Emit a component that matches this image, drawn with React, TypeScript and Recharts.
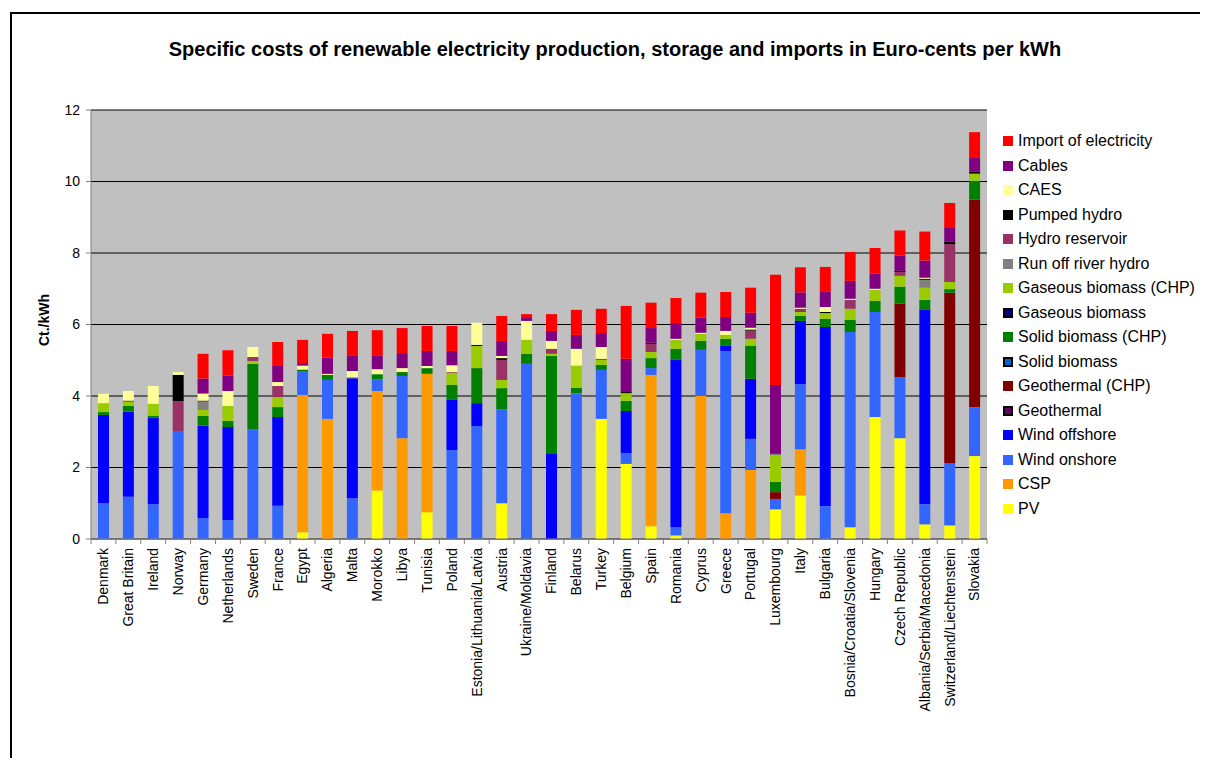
import React from 'react';
import { BarChart, Bar, XAxis, YAxis, CartesianGrid } from 'recharts';

const categories = [
  'Denmark', 'Great Britain', 'Ireland', 'Norway', 'Germany', 'Netherlands', 'Sweden', 'France',
  'Egypt', 'Algeria', 'Malta', 'Morokko', 'Libya', 'Tunisia', 'Poland', 'Estonia/Lithuania/Latvia',
  'Austria', 'Ukraine/Moldavia', 'Finland', 'Belarus', 'Turkey', 'Belgium', 'Spain', 'Romania',
  'Cyprus', 'Greece', 'Portugal', 'Luxembourg', 'Italy', 'Bulgaria', 'Bosnia/Croatia/Slovenia',
  'Hungary', 'Czech Republic', 'Albania/Serbia/Macedonia', 'Switzerland/Liechtenstein', 'Slovakia',
];

const pv = [0, 0, 0, 0, 0, 0, 0, 0, 0.19, 0, 0, 1.36, 0, 0.75, 0, 0, 1.0, 0, 0, 0, 3.36, 2.1, 0.36, 0.1, 0, 0, 0, 0.83, 1.22, 0, 0.33, 3.41, 2.82, 0.41, 0.38, 2.32];
const csp = [0, 0, 0, 0, 0, 0, 0, 0, 3.84, 3.36, 0, 2.78, 2.82, 3.87, 0, 0, 0, 0, 0, 0, 0, 0, 4.23, 0, 4.0, 0.72, 1.93, 0, 1.29, 0, 0, 0, 0, 0, 0, 0];
const windOnshore = [1.0, 1.18, 0.97, 3.02, 0.59, 0.53, 3.07, 0.93, 0.65, 1.09, 1.14, 0.33, 1.74, 0, 2.49, 3.16, 2.63, 4.9, 0, 4.08, 1.37, 0.3, 0.19, 0.23, 1.29, 4.54, 0.87, 0.29, 1.82, 0.92, 5.46, 2.94, 1.71, 0.56, 1.74, 1.37];
const windOffshore = [2.47, 2.38, 2.42, 0, 2.58, 2.6, 0, 2.48, 0, 0, 3.36, 0, 0, 0, 1.4, 0.64, 0, 0, 2.38, 0, 0, 1.18, 0, 4.68, 0, 0.14, 1.68, 0, 1.77, 5.01, 0, 0, 0, 5.44, 0, 0];
const geothermal = [0, 0, 0, 0, 0, 0, 0, 0, 0, 0, 0, 0, 0, 0, 0, 0, 0, 0, 0, 0, 0, 0, 0, 0, 0, 0, 0, 0, 0, 0, 0, 0, 0, 0, 0, 0];
const geothermalChp = [0, 0, 0, 0, 0, 0, 0, 0, 0, 0, 0, 0, 0, 0, 0, 0, 0, 0, 0, 0, 0, 0, 0, 0, 0, 0, 0, 0.19, 0, 0, 0, 0, 2.05, 0, 4.77, 5.8];
const solidBiomass = [0, 0, 0, 0, 0, 0, 0, 0, 0, 0, 0, 0, 0, 0, 0, 0, 0, 0, 0, 0, 0, 0, 0, 0, 0, 0, 0, 0, 0, 0, 0, 0, 0, 0, 0, 0];
const solidBiomassChp = [0.08, 0.16, 0.06, 0, 0.27, 0.17, 1.83, 0.28, 0.06, 0.14, 0, 0.14, 0.11, 0.16, 0.42, 0.98, 0.59, 0.28, 2.74, 0.15, 0.14, 0.28, 0.28, 0.31, 0.25, 0.2, 0.93, 0.29, 0.14, 0.23, 0.34, 0.31, 0.48, 0.28, 0.1, 0.53];
const gaseousBiomass = [0, 0, 0, 0, 0, 0, 0, 0, 0, 0, 0, 0, 0, 0, 0, 0, 0, 0, 0, 0, 0, 0, 0, 0, 0, 0, 0, 0, 0, 0, 0, 0, 0, 0, 0, 0];
const gaseousBiomassChp = [0.25, 0.13, 0.33, 0, 0.17, 0.42, 0.08, 0.28, 0, 0, 0.03, 0, 0, 0, 0.34, 0.62, 0.23, 0.39, 0.06, 0.62, 0.14, 0.22, 0.17, 0.25, 0.2, 0.11, 0.19, 0.75, 0.11, 0.16, 0.31, 0.31, 0.3, 0.34, 0.2, 0.2];
const runOffRiver = [0, 0, 0, 0, 0.24, 0, 0, 0, 0, 0, 0, 0, 0, 0, 0, 0, 0, 0, 0, 0, 0, 0, 0, 0, 0, 0, 0, 0.03, 0, 0, 0, 0, 0, 0.22, 0, 0];
const hydroReservoir = [0, 0, 0, 0.84, 0, 0, 0.11, 0.31, 0, 0, 0, 0, 0, 0, 0.02, 0, 0.56, 0, 0.14, 0, 0.03, 0, 0.23, 0, 0, 0, 0.23, 0, 0.09, 0, 0.25, 0, 0.11, 0, 1.06, 0];
const pumpedHydro = [0, 0.02, 0, 0.73, 0.02, 0, 0, 0, 0, 0, 0, 0, 0, 0, 0, 0.03, 0.05, 0, 0, 0, 0, 0.03, 0.03, 0, 0, 0, 0.03, 0, 0, 0.03, 0, 0, 0.03, 0.03, 0.06, 0.05];
const caes = [0.26, 0.27, 0.5, 0.08, 0.2, 0.42, 0.28, 0.11, 0.11, 0.03, 0.17, 0.14, 0.11, 0.06, 0.19, 0.62, 0.06, 0.53, 0.22, 0.47, 0.33, 0, 0, 0.03, 0.03, 0.11, 0.05, 0, 0.03, 0.14, 0.03, 0.03, 0, 0.03, 0, 0];
const cables = [0, 0, 0, 0, 0.42, 0.43, 0, 0.45, 0.07, 0.45, 0.42, 0.39, 0.42, 0.42, 0.4, 0, 0.42, 0.08, 0.28, 0.39, 0.39, 0.93, 0.41, 0.44, 0.42, 0.39, 0.42, 1.93, 0.43, 0.42, 0.5, 0.43, 0.43, 0.48, 0.39, 0.41];
const imports = [0, 0, 0, 0, 0.69, 0.71, 0, 0.67, 0.65, 0.67, 0.7, 0.7, 0.7, 0.7, 0.7, 0, 0.7, 0.11, 0.47, 0.7, 0.68, 1.48, 0.71, 0.7, 0.7, 0.7, 0.7, 3.08, 0.7, 0.7, 0.81, 0.71, 0.7, 0.81, 0.7, 0.7];

const yTicks = [0, 2, 4, 6, 8, 10, 12];

// bottom to top stacking order
const series = [
  { key: 'pv', name: 'PV', color: '#FFFF00', values: pv },
  { key: 'csp', name: 'CSP', color: '#FF9900', values: csp },
  { key: 'onshore', name: 'Wind onshore', color: '#3366FF', values: windOnshore },
  { key: 'offshore', name: 'Wind offshore', color: '#0000FF', values: windOffshore },
  { key: 'geo', name: 'Geothermal', color: '#660066', values: geothermal, outline: true },
  { key: 'geoChp', name: 'Geothermal (CHP)', color: '#800000', values: geothermalChp },
  { key: 'solid', name: 'Solid biomass', color: '#0066CC', values: solidBiomass, outline: true },
  { key: 'solidChp', name: 'Solid biomass (CHP)', color: '#008000', values: solidBiomassChp },
  { key: 'gas', name: 'Gaseous biomass', color: '#000080', values: gaseousBiomass, outline: true },
  { key: 'gasChp', name: 'Gaseous biomass (CHP)', color: '#99CC00', values: gaseousBiomassChp },
  { key: 'runoff', name: 'Run off river hydro', color: '#808080', values: runOffRiver },
  { key: 'reservoir', name: 'Hydro reservoir', color: '#993366', values: hydroReservoir },
  { key: 'pumped', name: 'Pumped hydro', color: '#000000', values: pumpedHydro },
  { key: 'caes', name: 'CAES', color: '#FFFF99', values: caes },
  { key: 'cables', name: 'Cables', color: '#800080', values: cables },
  { key: 'import', name: 'Import of electricity', color: '#FF0000', values: imports },
];

const data = categories.map((name, i) => {
  const row: Record<string, string | number> = { name };
  series.forEach((s) => { row[s.key] = s.values[i]; });
  return row;
});

const FONT = '"Liberation Sans", Arial, sans-serif';
const HALF_BAND = 896 / categories.length / 2;

const CategoryTick = (props: any) => {
  const { x, y, payload, index } = props;
  return (
    <g>
      <line x1={x - HALF_BAND} y1={y} x2={x - HALF_BAND} y2={y + 5} stroke="#808080" />
      {index === categories.length - 1 && (
        <line x1={x + HALF_BAND} y1={y} x2={x + HALF_BAND} y2={y + 5} stroke="#808080" />
      )}
      <text
        x={x}
        y={y + 9}
        dy="0.35em"
        transform={`rotate(-90, ${x}, ${y + 9})`}
        textAnchor="end"
        fontSize={14}
        fontFamily={FONT}
        fill="#000"
      >
        {payload.value}
      </text>
    </g>
  );
};

export default function App() {
  return (
    <div style={{ position: 'relative', width: 1200, height: 750, overflow: 'hidden', fontFamily: FONT }}>
      <div
        style={{
          position: 'absolute', left: 2, top: 4, width: 1400, height: 900,
          borderLeft: '2px solid #000', borderTop: '2px solid #000',
        }}
      />
      <div
        style={{
          position: 'absolute', left: 0, width: 1214, top: 30, textAlign: 'center',
          fontWeight: 'bold', fontSize: 20, whiteSpace: 'nowrap',
        }}
      >
        Specific costs of renewable electricity production, storage and imports in Euro-cents per kWh
      </div>
      <div
        style={{
          position: 'absolute', left: 36, top: 312, fontWeight: 'bold', fontSize: 14,
          transform: 'translate(-50%, -50%) rotate(-90deg)', whiteSpace: 'nowrap',
        }}
      >
        Ct./kWh
      </div>
      <div style={{ position: 'absolute', left: 0, top: 0 }}>
        <BarChart
          width={1200}
          height={750}
          data={data}
          margin={{ top: 102, right: 221, bottom: 19, left: 23 }}
          barSize={11}
        >
          <CartesianGrid vertical={false} fill="#C0C0C0" stroke="#000" strokeOpacity={1} />
          <XAxis
            dataKey="name"
            interval={0}
            height={200}
            tickSize={0}
            tickMargin={0}
            axisLine={{ stroke: '#808080' }}
            tick={<CategoryTick />}
          />
          <YAxis
            domain={[0, 12]}
            ticks={yTicks}
            width={60}
            tickSize={5}
            tickMargin={6}
            axisLine={{ stroke: '#808080' }}
            tickLine={{ stroke: '#808080' }}
            tick={{ fontSize: 14, fill: '#000', fontFamily: FONT }}
          />
          <YAxis
            yAxisId="right"
            orientation="right"
            domain={[0, 12]}
            width={0}
            tick={false}
            tickLine={false}
            axisLine={{ stroke: '#808080' }}
          />
          {series.map((s) => (
            <Bar key={s.key} dataKey={s.key} name={s.name} stackId="a" fill={s.color} isAnimationActive={false} />
          ))}
        </BarChart>
      </div>
      <div style={{ position: 'absolute', left: 995, top: 121 }}>
        {[...series].reverse().map((s) => (
          <div key={s.key} style={{ display: 'flex', alignItems: 'center', height: 24.5, fontSize: 16, whiteSpace: 'nowrap' }}>
            <span
              style={{
                display: 'inline-block', width: 10, height: 10, background: s.color, marginRight: 5,
                boxSizing: 'border-box', border: s.outline ? '2px solid #000' : 'none', flexShrink: 0,
              }}
            />
            <span>{s.name}</span>
          </div>
        ))}
      </div>
    </div>
  );
}
